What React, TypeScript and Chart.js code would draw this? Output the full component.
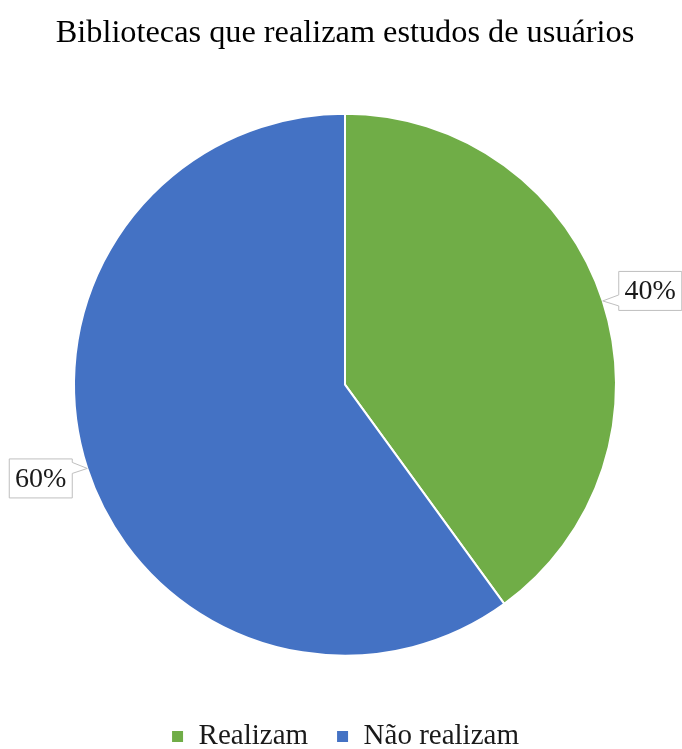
import React, { useEffect, useRef } from "react";
import { Chart, registerables } from "chart.js";

Chart.register(...registerables);

const titleText = "Bibliotecas que realizam estudos de usuários";
const categories = ["Realizam", "Não realizam"];
const values = [40, 60];
const labelsText = ["40%", "60%"];
const colors = ["#70AD47", "#4472C4"];

const SERIF = "'Liberation Serif', 'Times New Roman', serif";

const calloutPlugin = {
  id: "callouts",
  afterDatasetsDraw(chart: any) {
    const ctx = chart.ctx;
    const meta = chart.getDatasetMeta(0);
    meta.data.forEach((arc: any, i: number) => {
      const p = arc.getProps(["x", "y", "startAngle", "endAngle", "outerRadius"], true);
      const mid = (p.startAngle + p.endAngle) / 2;
      const tx = p.x + Math.cos(mid) * p.outerRadius;
      const ty = p.y + Math.sin(mid) * p.outerRadius;
      const w = 63;
      const h = 39;
      const right = Math.cos(mid) >= 0;
      let left: number, top: number;
      if (right) {
        left = tx + 16;
        top = ty - 10 - h / 2;
      } else {
        left = tx - 15 - w;
        top = ty + 10 - h / 2;
      }
      const b1 = ty - 6;
      const b2 = ty + 5;
      ctx.save();
      ctx.beginPath();
      if (right) {
        ctx.moveTo(left, top);
        ctx.lineTo(left + w, top);
        ctx.lineTo(left + w, top + h);
        ctx.lineTo(left, top + h);
        ctx.lineTo(left, b2);
        ctx.lineTo(tx, ty);
        ctx.lineTo(left, b1);
        ctx.closePath();
      } else {
        ctx.moveTo(left, top);
        ctx.lineTo(left + w, top);
        ctx.lineTo(left + w, b1);
        ctx.lineTo(tx, ty);
        ctx.lineTo(left + w, b2);
        ctx.lineTo(left + w, top + h);
        ctx.lineTo(left, top + h);
        ctx.closePath();
      }
      ctx.fillStyle = "#ffffff";
      ctx.fill();
      ctx.strokeStyle = "#bfbfbf";
      ctx.lineWidth = 1;
      ctx.stroke();
      ctx.fillStyle = "#1a1a1a";
      ctx.font = `28px ${SERIF}`;
      ctx.textAlign = "center";
      ctx.textBaseline = "middle";
      ctx.fillText(labelsText[i], left + w / 2, top + h / 2 + 1);
      ctx.restore();
    });
  },
};

export default function App() {
  const ref = useRef<HTMLCanvasElement>(null);
  useEffect(() => {
    document.body.style.margin = "0";
    const chart = new Chart(ref.current!, {
      type: "pie",
      data: {
        labels: categories,
        datasets: [
          {
            data: values,
            backgroundColor: colors,
            borderColor: "#ffffff",
            borderWidth: 2,
            radius: 271,
          } as any,
        ],
      },
      options: {
        animation: false,
        responsive: false,
        layout: { padding: { left: 8, right: 0, top: 0, bottom: -12 } },
        plugins: {
          title: {
            display: true,
            text: titleText,
            color: "#000000",
            font: { family: SERIF, size: 32.3, weight: "normal" },
            padding: { top: 14, bottom: 22.6 },
          },
          legend: {
            display: true,
            position: "bottom",
            labels: {
              color: "#1a1a1a",
              font: { family: SERIF, size: 29 },
              boxWidth: 13,
              boxHeight: 13,
              padding: 28,
            },
          },
          tooltip: { enabled: false },
        },
      },
      plugins: [calloutPlugin],
    });
    return () => chart.destroy();
  }, []);
  return (
    <div style={{ position: "fixed", left: 0, top: 0, width: 682, height: 749, background: "#fff" }}>
      <canvas ref={ref} width={682} height={749} />
    </div>
  );
}
